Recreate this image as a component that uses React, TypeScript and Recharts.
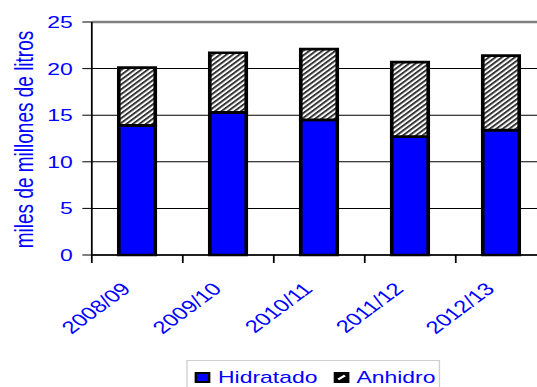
import React from 'react';
import { BarChart, Bar, XAxis, YAxis, CartesianGrid, ReferenceLine, Legend } from 'recharts';

// Production by season, thousands of millions of litres
const seasons = ['2008/09', '2009/10', '2010/11', '2011/12', '2012/13'];
const hidratado = [13.9, 15.3, 14.5, 12.7, 13.4];
const anhidro = [6.2, 6.4, 7.6, 8.0, 8.0];
const yTicks = [0, 5, 10, 15, 20, 25];

const data = seasons.map((season, i) => ({
  season,
  Hidratado: hidratado[i],
  Anhidro: anhidro[i],
}));

const FONT = '"Liberation Sans", Arial, Helvetica, sans-serif';
const BLUE = '#0000FF';
const STRETCH = 1.35;
const W = 405;
const H = 387;

function CategoryTick(props: any) {
  const { x, y, payload, width, visibleTicksCount, index } = props;
  const half =
    payload && typeof payload.offset === 'number' && payload.offset > 0
      ? payload.offset
      : width / visibleTicksCount / 2;
  const tx = x - 4;
  const ty = y + 35;
  return (
    <g>
      <line x1={x - half} x2={x - half} y1={y} y2={y + 8} stroke="#000" strokeWidth={1.3} />
      {index === visibleTicksCount - 1 && (
        <line x1={x + half} x2={x + half} y1={y} y2={y + 8} stroke="#000" strokeWidth={1.3} />
      )}
      <text
        x={tx}
        y={ty}
        transform={`rotate(-45, ${tx}, ${ty})`}
        textAnchor="end"
        fill={BLUE}
        fontSize={17.5}
        fontFamily={FONT}
      >
        {payload.value}
      </text>
    </g>
  );
}

function YTitle(props: any) {
  const vb = props.viewBox || { x: 0, y: 0, width: 0, height: 0 };
  const cx = vb.x + 18;
  const cy = vb.y + vb.height / 2 + 1;
  return (
    <text
      x={cx}
      y={cy}
      transform={`rotate(-90, ${cx}, ${cy})`}
      textAnchor="middle"
      dominantBaseline="central"
      fill={BLUE}
      fontSize={19}
      fontFamily={FONT}
    >
      miles de millones de litros
    </text>
  );
}

function LegendBox() {
  const textStyle: React.CSSProperties = {
    position: 'absolute',
    top: 7.5,
    fontSize: 17,
    lineHeight: '17px',
    color: BLUE,
    fontFamily: FONT,
    whiteSpace: 'nowrap',
  };
  return (
    <div style={{ position: 'relative', width: W, height: 42 }}>
      <div
        style={{
          position: 'absolute',
          left: 138,
          top: 15,
          width: 188,
          height: 32,
          border: '1px solid #cfcfcf',
          background: '#fff',
          boxSizing: 'border-box',
        }}
      >
        <svg width={12} height={11} style={{ position: 'absolute', left: 5, top: 11 }}>
          <rect x={1} y={1} width={10} height={9} fill={BLUE} stroke="#000" strokeWidth={2} />
        </svg>
        <span style={{ ...textStyle, left: 22.5 }}>Hidratado</span>
        <svg width={12} height={11} style={{ position: 'absolute', left: 107.5, top: 11 }}>
          <rect x={0} y={0} width={12} height={11} fill="#000" />
          <line x1={3.5} y1={7.5} x2={8.5} y2={3.5} stroke="#fff" strokeWidth={2.2} />
        </svg>
        <span style={{ ...textStyle, left: 125 }}>Anhidro</span>
      </div>
    </div>
  );
}

export default function App() {
  return (
    <div
      style={{
        position: 'absolute',
        left: 0,
        top: 0,
        width: 537,
        height: 387,
        overflow: 'hidden',
        background: '#fff',
      }}
    >
      <div style={{ width: W, height: H, transform: `scaleX(${STRETCH})`, transformOrigin: '0 0' }}>
        <BarChart width={W} height={H} data={data} margin={{ top: 22, right: 0, bottom: 0, left: 0 }}>
          <defs>
            <pattern id="hatch" width={3.4} height={3.4} patternUnits="userSpaceOnUse" patternTransform="rotate(45)">
              <rect x={0} y={0} width={3.4} height={3.4} fill="#fff" />
              <rect x={0} y={0} width={1.7} height={3.4} fill="#333" />
            </pattern>
          </defs>
          <CartesianGrid vertical={false} stroke="#000" strokeWidth={1} />
          <XAxis
            dataKey="season"
            height={90}
            interval={0}
            tickSize={0}
            tickMargin={0}
            tickLine={false}
            axisLine={{ stroke: '#000', strokeWidth: 1.5 }}
            tick={<CategoryTick />}
          />
          <YAxis
            width={68}
            domain={[0, 25]}
            ticks={yTicks}
            interval={0}
            tickSize={7}
            tickMargin={7}
            axisLine={{ stroke: '#000', strokeWidth: 1.3 }}
            tickLine={{ stroke: '#000', strokeWidth: 1 }}
            tick={{ fill: BLUE, fontSize: 17, fontFamily: FONT }}
            label={<YTitle />}
          />
          <ReferenceLine y={25} stroke="#808080" strokeWidth={2.5} />
          <Bar
            dataKey="Hidratado"
            stackId="a"
            fill={BLUE}
            stroke="#000"
            strokeWidth={2.7}
            barSize={27}
            isAnimationActive={false}
          />
          <Bar
            dataKey="Anhidro"
            stackId="a"
            fill="url(#hatch)"
            stroke="#000"
            strokeWidth={2.7}
            barSize={27}
            isAnimationActive={false}
          />
          <Legend
            verticalAlign="bottom"
            align="left"
            content={<LegendBox />}
            wrapperStyle={{ left: 0, bottom: 0, width: W, height: 42 }}
          />
        </BarChart>
      </div>
    </div>
  );
}
